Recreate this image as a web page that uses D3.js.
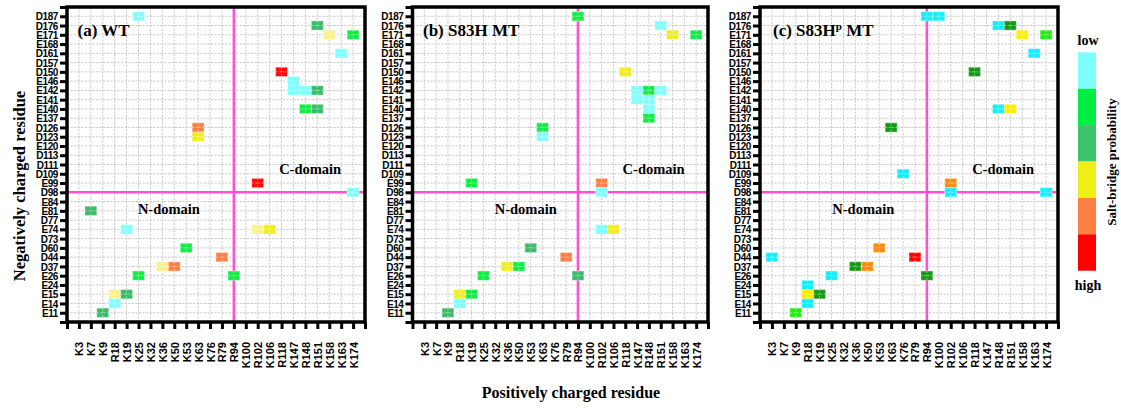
<!DOCTYPE html>
<html><head><meta charset="utf-8">
<script src="https://cdn.jsdelivr.net/npm/d3@7"></script>
<style>body{margin:0;background:#fff}</style>
</head><body>
<svg id="chart" width="1121" height="408"></svg>
<script>
// ---- data ----
const xLabels = ["K3","K7","K9","R18","K19","K25","K32","K36","K50","K53","K63","K76","R79","R94","K100","R102","K106","R118","K147","R148","R151","K158","K163","K174"];
const yLabels = ["E11","E14","E15","E24","E26","D37","D44","D60","D73","E74","D77","E81","E84","D98","E99","D109","D111","D113","E120","D123","D126","E137","E140","E141","E142","E146","D150","D157","D161","E168","E171","D176","D187"];
// probability class: r=high, o, y, py (pale yellow), m (mid green), g (green), c=low
const cellsWT = [
  ["K25","D187","c"],["R151","D176","m"],["K158","E171","py"],["K174","E171","g"],
  ["K163","D161","c"],["R118","D150","r"],["K147","E146","c"],["K147","E142","c"],
  ["R148","E142","c"],["R151","E142","m"],["R148","E140","g"],["R151","E140","m"],
  ["K63","D126","o"],["K63","D123","y"],["R102","E99","r"],["K174","D98","c"],
  ["K7","E81","m"],["K19","E74","c"],["R102","E74","py"],["K106","E74","y"],
  ["K53","D60","g"],["R79","D44","o"],["K36","D37","py"],["K50","D37","o"],
  ["K25","E26","g"],["R94","E26","g"],["R18","E15","py"],["K19","E15","m"],
  ["R18","E14","c"],["K9","E11","m"]
];
const cellsS83H = [
  ["R94","D187","g"],["R151","D176","c"],["K158","E171","y"],["K174","E171","g"],
  ["R118","D150","y"],["K147","E142","c"],["R148","E142","g"],["R151","E142","c"],
  ["K147","E141","c"],["R148","E141","c"],["R148","E140","c"],["R148","E137","g"],
  ["K63","D126","g"],["K63","D123","c"],["K19","E99","g"],["R102","E99","o"],
  ["R102","D98","c"],["R102","E74","c"],["K106","E74","y"],["K53","D60","m"],
  ["R79","D44","o"],["K36","D37","y"],["K50","D37","g"],["K25","E26","g"],
  ["R94","E26","m"],["R18","E15","y"],["K19","E15","g"],["R18","E14","c"],
  ["K9","E11","m"]
];
const cellsS83Hp = [
  ["R94","D187","c"],["K100","D187","c"],["R148","D176","c"],["R151","D176","m"],
  ["K158","E171","y"],["K174","E171","g"],["K163","D161","c"],["R118","D150","m"],
  ["R148","E140","c"],["R151","E140","y"],["K63","D126","m"],["K76","D109","c"],
  ["R102","E99","o"],["R102","D98","c"],["K174","D98","c"],["K3","D44","c"],
  ["K53","D60","o"],["R79","D44","r"],["K36","D37","m"],["K50","D37","o"],
  ["K25","E26","c"],["R94","E26","m"],["R18","E24","c"],["R18","E15","y"],
  ["K19","E15","m"],["R18","E14","c"],["K9","E11","g"]
];
const legendLevels = ["c","g","m","y","o","r"];
const dividerX = "R94", dividerY = "D98";

// ---- styles ----
const paletteAB = {c:"#80ffff", g:"#12ec44", m:"#3cbb6a", y:"#eeee22", py:"#f9f28a", o:"#ff7f45", r:"#ff0a0a"};
const paletteC  = {c:"#14eeff", g:"#22ee11", m:"#149a14", y:"#ffee00", py:"#ffee66", o:"#ff8a10", r:"#ff0000"};
const legendColors = {c:"#80ffff", g:"#00ee44", m:"#3cc46c", y:"#f0f018", o:"#ff8040", r:"#ff0000"};

const panels = [
  {left:67,   right:365,  title:[["(a) WT"]], tdx:10.5, cells:cellsWT,   pal:paletteAB, nX:8.55},
  {left:412.5,right:708,  title:[["(b) S83H MT"]], tdx:10.5, cells:cellsS83H, pal:paletteAB, nX:9.58},
  {left:760,  right:1058, title:[["(c) S83H"],["p","sup"],[" MT"]], tdx:13, cells:cellsS83Hp, pal:paletteC, nX:8.67}
];
const plotTop = 7, plotBottom = 322;
const sansF = "'Liberation Sans', Arial, sans-serif";
const serifF = "'Liberation Serif', 'Times New Roman', serif";

const svg = d3.select("#chart");

panels.forEach(p => {
  const g = svg.append("g");
  const xs = d3.scalePoint().domain(xLabels).range([p.left, p.right]).padding(1);
  const ys = d3.scalePoint().domain(yLabels).range([plotBottom, plotTop]).padding(1);
  const xl = d3.scaleLinear().domain([0, xLabels.length + 1]).range([p.left, p.right]);
  const yl = d3.scaleLinear().domain([0, yLabels.length + 1]).range([plotBottom, plotTop]);
  const sx = xs.step(), sy = ys.step();

  // grid (under)
  const grid = g.append("g").attr("stroke", "#c8c8c8").attr("stroke-width", 1).attr("stroke-dasharray", "2.2,1.4");
  grid.selectAll("line.v").data(xLabels).join("line").attr("class","v")
    .attr("x1", d => xs(d)).attr("x2", d => xs(d)).attr("y1", plotTop).attr("y2", plotBottom);
  grid.selectAll("line.h").data(yLabels).join("line").attr("class","h")
    .attr("y1", d => ys(d)).attr("y2", d => ys(d)).attr("x1", p.left).attr("x2", p.right);

  // magenta dividers
  g.append("line").attr("x1", xs(dividerX)).attr("x2", xs(dividerX)).attr("y1", plotTop).attr("y2", plotBottom)
    .attr("stroke", "#ff4fd2").attr("stroke-width", 2.6);
  g.append("line").attr("x1", p.left).attr("x2", p.right).attr("y1", ys(dividerY)).attr("y2", ys(dividerY))
    .attr("stroke", "#ff4fd2").attr("stroke-width", 2.6);

  // cells
  g.append("g").selectAll("rect").data(p.cells).join("rect")
    .attr("x", d => xs(d[0]) - sx/2).attr("y", d => ys(d[1]) - sy/2)
    .attr("width", sx).attr("height", sy)
    .attr("fill", d => p.pal[d[2]])
    .attr("stroke", "#fff").attr("stroke-opacity", 0.35).attr("stroke-width", 1);

  // light cross inside cells (grid shows through)
  const cross = g.append("g").attr("stroke", "#ffffff").attr("stroke-opacity", 0.55)
    .attr("stroke-width", 0.8).attr("stroke-dasharray", "2,1.4");
  cross.selectAll("line.cv").data(p.cells).join("line").attr("class","cv")
    .attr("x1", d => xs(d[0])).attr("x2", d => xs(d[0])).attr("y1", d => ys(d[1]) - sy/2).attr("y2", d => ys(d[1]) + sy/2);
  cross.selectAll("line.ch").data(p.cells).join("line").attr("class","ch")
    .attr("y1", d => ys(d[1])).attr("y2", d => ys(d[1])).attr("x1", d => xs(d[0]) - sx/2).attr("x2", d => xs(d[0]) + sx/2);

  // axes
  const xAxis = d3.axisBottom(xl).tickValues(d3.range(0, xLabels.length + 2))
    .tickFormat(i => xLabels[i-1] || "").tickSize(7);
  const ax = g.append("g").attr("transform", `translate(0,${plotBottom})`).call(xAxis);
  ax.select(".domain").remove();
  ax.selectAll(".tick line").attr("stroke", "#000").attr("stroke-width", 3);
  ax.selectAll(".tick text").attr("transform", "rotate(-90)").attr("text-anchor", "end")
    .attr("x", -20).attr("y", 0).attr("dy", "0.36em")
    .attr("font-family", sansF).attr("font-weight", "bold").attr("font-size", 11).attr("fill", "#000");

  const yAxis = d3.axisLeft(yl).tickValues(d3.range(0, yLabels.length + 2))
    .tickFormat(j => yLabels[j-1] || "").tickSize(7).tickPadding(2);
  const ay = g.append("g").attr("transform", `translate(${p.left},0)`).call(yAxis);
  ay.select(".domain").remove();
  ay.selectAll(".tick line").attr("stroke", "#000").attr("stroke-width", 3);
  ay.selectAll(".tick text").attr("font-family", sansF).attr("font-weight", "bold")
    .attr("font-size", 10).attr("letter-spacing", "-0.4px").attr("fill", "#000").attr("dy", "0.36em");

  // frame
  g.append("rect").attr("x", p.left).attr("y", plotTop).attr("width", p.right - p.left).attr("height", plotBottom - plotTop)
    .attr("fill", "none").attr("stroke", "#000").attr("stroke-width", 3.5);

  // title
  const t = g.append("text").attr("x", p.left + p.tdx).attr("y", 36)
    .attr("font-family", serifF).attr("font-weight", "bold").attr("font-size", 17).attr("fill", "#000");
  p.title.forEach((seg, k) => {
    const ts = t.append("tspan").text(seg[0]);
    if (seg[1] === "sup") ts.attr("font-size", 11).attr("dy", -6);
    else if (k > 0) ts.attr("dy", 6);
  });

  // domain labels
  g.append("text").attr("x", xl(20.4)).attr("y", yl(16)).attr("text-anchor", "middle")
    .attr("font-family", serifF).attr("font-weight", "bold").attr("font-size", 14.5).text("C-domain");
  g.append("text").attr("x", xl(p.nX)).attr("y", yl(11.7)).attr("text-anchor", "middle")
    .attr("font-family", serifF).attr("font-weight", "bold").attr("font-size", 14.5).text("N-domain");
});

// axis titles
svg.append("text").attr("x", 571).attr("y", 398).attr("text-anchor", "middle")
  .attr("font-family", serifF).attr("font-weight", "bold").attr("font-size", 16).text("Positively charged residue");
svg.append("text").attr("transform", "translate(25,186) rotate(-90)").attr("text-anchor", "middle")
  .attr("font-family", serifF).attr("font-weight", "bold").attr("font-size", 16.5).text("Negatively charged residue");

// legend
const ly = d3.scaleBand().domain(legendLevels).range([52.3, 270.7]);
const lg = svg.append("g");
lg.selectAll("rect").data(legendLevels).join("rect")
  .attr("x", 1078).attr("y", d => ly(d)).attr("width", 18).attr("height", ly.bandwidth())
  .attr("fill", d => legendColors[d]);
lg.append("text").attr("x", 1088).attr("y", 45).attr("text-anchor", "middle")
  .attr("font-family", serifF).attr("font-weight", "bold").attr("font-size", 14).text("low");
lg.append("text").attr("x", 1088).attr("y", 290).attr("text-anchor", "middle")
  .attr("font-family", serifF).attr("font-weight", "bold").attr("font-size", 14).text("high");
lg.append("text").attr("transform", "translate(1116,162) rotate(-90)").attr("text-anchor", "middle")
  .attr("font-family", serifF).attr("font-weight", "bold").attr("font-size", 13).text("Salt-bridge probability");
</script>
</body></html>
